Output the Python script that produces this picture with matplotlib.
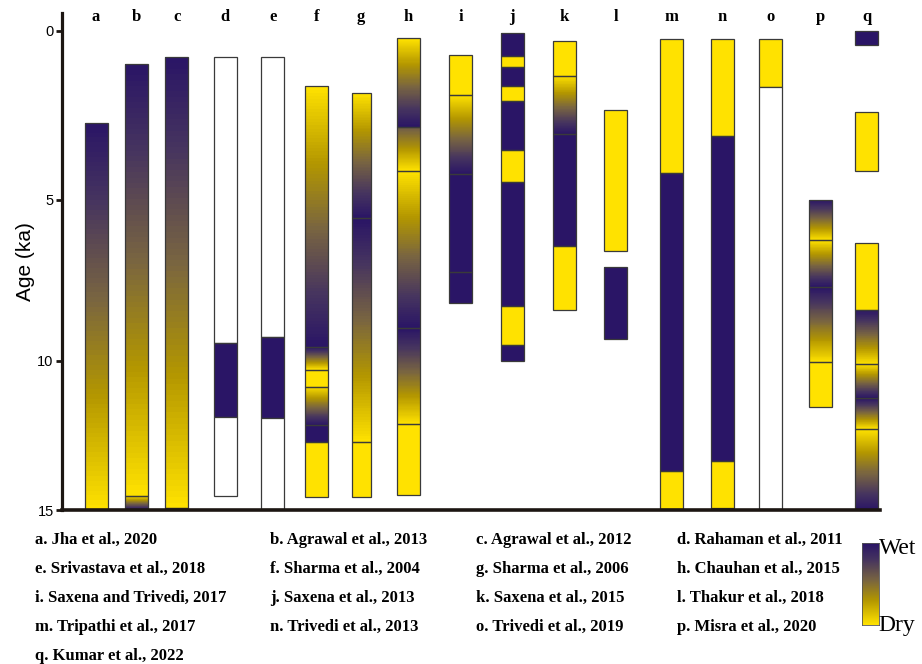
import numpy as np
import matplotlib
matplotlib.use("Agg")
import matplotlib.pyplot as plt
from matplotlib.colors import LinearSegmentedColormap
from matplotlib.patches import Rectangle

# wetness: 0 = dry, 1 = wet, None = no record (white)
# each segment: (top age ka, bottom age ka, wetness at top, wetness at bottom)
col_a = [(2.72, 15.0, 1, 0)]
col_b = [(0.99, 14.52, 1, 0), (14.52, 15.0, 0, 1)]
col_c = [(0.78, 14.94, 1, 0), (14.94, 15.0, 0, 0)]
col_d = [(0.78, 9.43, None, None), (9.43, 11.89, 1, 1), (11.89, 14.53, None, None)]
col_e = [(0.78, 9.26, None, None), (9.26, 11.92, 1, 1), (11.92, 14.95, None, None)]
col_f = [(1.64, 9.56, 0, 1), (9.56, 10.29, 1, 0), (10.29, 10.86, 0, 0),
         (10.86, 12.15, 0, 1), (12.15, 12.73, 1, 1), (12.73, 14.58, 0, 0)]
col_g = [(1.85, 5.57, 0, 1), (5.57, 12.72, 1, 0), (12.72, 14.58, 0, 0)]
col_h = [(0.22, 2.84, 0, 1), (2.84, 4.14, 0.6, 0), (4.14, 8.98, 0, 1),
         (8.98, 12.12, 1, 0), (12.12, 14.51, 0, 0)]
col_i = [(0.71, 1.90, 0, 0), (1.90, 4.24, 0, 1), (4.24, 7.24, 1, 1), (7.24, 8.19, 1, 1)]
col_j = [(0.07, 0.74, 1, 1), (0.74, 1.06, 0, 0), (1.06, 1.62, 1, 1), (1.62, 2.06, 0, 0),
         (2.06, 3.52, 1, 1), (3.52, 4.47, 0, 0), (4.47, 8.29, 1, 1), (8.29, 9.51, 0, 0),
         (9.51, 9.99, 1, 1)]
col_k = [(0.29, 1.32, 0, 0), (1.32, 3.06, 0, 1), (3.06, 6.43, 1, 1), (6.43, 8.43, 0, 0)]
col_l = [(2.34, 6.57, 0, 0), (7.07, 9.32, 1, 1)]
col_m = [(0.23, 4.19, 0, 0), (4.19, 13.69, 1, 1), (13.69, 14.95, 0, 0)]
col_n = [(0.23, 3.10, 0, 0), (3.10, 13.36, 1, 1), (13.36, 14.93, 0, 0)]
col_o = [(0.23, 1.67, 0, 0), (1.67, 14.95, None, None)]
col_p = [(5.0, 6.25, 1, 0), (6.25, 7.70, 0, 1), (7.70, 10.04, 1, 0), (10.04, 11.53, 0, 0)]
col_q = [(0.0, 0.43, 1, 1), (2.40, 4.14, 0, 0), (6.34, 8.41, 0, 0), (8.41, 10.11, 1, 0),
         (10.11, 11.25, 0, 1), (11.25, 12.28, 1, 0), (12.28, 15.0, 0, 1)]

letters = list("abcdefghijklmnopq")
columns = [col_a, col_b, col_c, col_d, col_e, col_f, col_g, col_h, col_i,
           col_j, col_k, col_l, col_m, col_n, col_o, col_p, col_q]

refs = ["a. Jha et al., 2020", "b. Agrawal et al., 2013", "c. Agrawal et al., 2012",
        "d. Rahaman et al., 2011", "e. Srivastava et al., 2018", "f. Sharma et al., 2004",
        "g. Sharma et al., 2006", "h. Chauhan et al., 2015", "i. Saxena and Trivedi, 2017",
        "j. Saxena et al., 2013", "k. Saxena et al., 2015", "l. Thakur et al., 2018",
        "m. Tripathi et al., 2017", "n. Trivedi et al., 2013", "o. Trivedi et al., 2019",
        "p. Misra et al., 2020", "q. Kumar et al., 2022"]

age_ticks = [0, 5, 10, 15]

# layout (pixel-ish units along x, column centres and widths)
col_x = [34, 74.7, 114.7, 163, 210.7, 254.7, 299.2, 346, 398.7, 450, 502,
         553.7, 609, 660, 708.3, 758, 804.7]
col_w = [23] * 17
col_w[6] = 19

# the original age axis is not quite linear
knots_age = [-5, 0, 5, 10, 15, 20]
knots_pos = [-169, 0, 169, 330, 479, 628]


def fwd(a):
    return np.interp(a, knots_age, knots_pos)


def inv(p):
    return np.interp(p, knots_pos, knots_age)


cmap = LinearSegmentedColormap.from_list(
    "wetdry",
    [(0.0, "#ffe200"), (0.3, "#b29600"), (0.55, "#786441"),
     (0.8, "#46345f"), (1.0, "#2a1566")])

W, H = 922, 664
fig = plt.figure(figsize=(W / 100, H / 100), dpi=100)
ax = fig.add_axes([62 / W, 1 - 510 / H, (880 - 62) / W, (510 - 13) / H])
ax.set_yscale("function", functions=(fwd, inv))
ax.set_xlim(0, 818)
ax.set_ylim(15, -0.53)

NSTEP = 80  # bands used to paint one gradient


def draw_seg(xc, w, top, bot, wt, wb):
    x0, x1 = xc - w / 2, xc + w / 2
    if wt is not None:
        ye = inv(np.linspace(fwd(top), fwd(bot), NSTEP + 1))
        c = wt + (wb - wt) * (np.arange(NSTEP) + 0.5) / NSTEP
        ax.pcolormesh([x0, x1], ye, c.reshape(-1, 1), cmap=cmap, vmin=0, vmax=1,
                      shading="flat", edgecolors="none", antialiased=False, zorder=1)
    ax.add_patch(Rectangle((x0, top), w, bot - top, facecolor="none" if wt is not None else "white",
                           edgecolor="#3a3a3a", lw=0.9, zorder=2))


for xc, w, segs, letter in zip(col_x, col_w, columns, letters):
    for top, bot, wt, wb in segs:
        draw_seg(xc, w, top, bot, wt, wb)
    ax.text(xc, -0.42, letter, ha="center", va="center", fontsize=12,
            family="Liberation Serif", weight="bold", clip_on=False)

for s in ["top", "right"]:
    ax.spines[s].set_visible(False)
ax.spines["left"].set_linewidth(2.3)
ax.spines["bottom"].set_linewidth(2.6)
ax.spines["left"].set_color("#1c1612")
ax.spines["bottom"].set_color("#1c1612")
ax.set_xticks([])
ax.set_yticks(age_ticks)
ax.set_yticklabels([str(t) for t in age_ticks], family="Liberation Sans", fontsize=10.5)
ax.yaxis.set_minor_locator(matplotlib.ticker.NullLocator())
ax.tick_params(axis="y", direction="out", length=4, width=2, color="#1c1612", pad=2)
ax.set_ylabel("Age (ka)", family="Liberation Sans", fontsize=15, labelpad=2)

# reference list
row_y = [540, 569, 598, 627, 656]
col_tx = [35, 270, 476, 677]
for i, r in enumerate(refs):
    fig.text(col_tx[i % 4] / W, 1 - row_y[i // 4] / H, r, ha="left", va="center",
             family="Liberation Serif", weight="bold", fontsize=12)

# wet / dry scale
cax = fig.add_axes([862 / W, 1 - 625 / H, 17 / W, 82 / H])
cax.imshow(np.linspace(1, 0, 100).reshape(-1, 1), cmap=cmap, vmin=0, vmax=1, aspect="auto")
cax.set_xticks([])
cax.set_yticks([])
for s in cax.spines.values():
    s.set_linewidth(0.6)
    s.set_color("#555555")
fig.text(879 / W, 1 - 548 / H, "Wet", family="Liberation Serif", fontsize=17, ha="left", va="center")
fig.text(878 / W, 1 - 625 / H, "Dry", family="Liberation Serif", fontsize=17, ha="left", va="center")

fig.savefig("out.png", dpi=100)
